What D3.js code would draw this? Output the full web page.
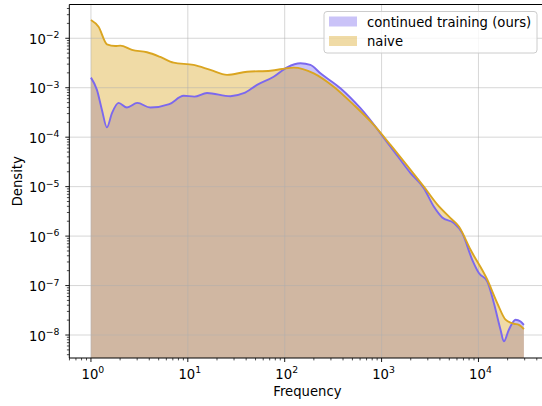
<!DOCTYPE html>
<html>
<head>
<meta charset="utf-8">
<script src="https://cdn.jsdelivr.net/npm/d3@7"></script>
<style>
  body { margin: 0; background: #fff; }
  svg { font-family: "DejaVu Sans", sans-serif; }
</style>
</head>
<body>
<svg width="542" height="406"></svg>
<script>
// values (frequency, density)
const freqOurs = [1, 1.153, 1.299, 1.463, 1.648, 1.928, 2.353, 3.01, 4.10, 6.44, 9.05, 11.67, 15.79,
  27.5, 37.7, 51.8, 76.9, 105.9, 145.3, 184.1, 233.7, 375.8, 605, 1236, 1990, 2730, 3459, 4226,
  5570, 6800, 8630, 10100, 12340, 14420, 16900, 18280, 20600, 24160, 27220, 29440]
const densOurs = [1.60e-3, 9.04e-4, 3.56e-4, 1.58e-4, 3.05e-4, 4.93e-4, 3.97e-4, 4.93e-4, 3.97e-4,
  4.65e-4, 6.89e-4, 6.61e-4, 7.85e-4, 6.74e-4, 7.74e-4, 1.14e-3, 1.67e-3, 2.59e-3, 3.13e-3,
  2.89e-3, 1.96e-3, 9.77e-4, 3.85e-4, 6.46e-5, 1.88e-5, 9.33e-6, 3.96e-6, 2.38e-6, 1.83e-6,
  1.15e-6, 3.32e-7, 1.79e-7, 1.21e-7, 4.43e-8, 1.28e-8, 7.43e-9, 1.28e-8, 2.04e-8, 1.88e-8, 1.61e-8]

const freqNaive = [1, 1.198, 1.463, 1.782, 2.008, 2.655, 3.79, 5.2, 7.13, 11.48, 17.07, 25.4, 40.9,
  71.2, 123.9, 199.5, 320.6, 516, 830, 1236, 1990, 2730, 3752, 5150, 6280, 8290, 12340, 15630,
  19050, 23220, 26130, 29440]
const densNaive = [2.34e-2, 1.71e-2, 7.57e-3, 6.98e-3, 7.09e-3, 5.81e-3, 5.21e-3, 4.19e-3, 3.21e-3,
  2.89e-3, 2.29e-3, 1.82e-3, 2.11e-3, 2.21e-3, 2.55e-3, 1.96e-3, 1.05e-3, 4.50e-4, 1.77e-4,
  6.98e-5, 2.18e-5, 1.00e-5, 4.38e-6, 2.31e-6, 1.56e-6, 5.28e-7, 1.31e-7, 4.43e-8, 2.04e-8,
  1.69e-8, 1.61e-8, 1.32e-8]

const seriesNames = ["continued training (ours)", "naive"]
const seriesColors = ["#7b68ee", "#daa520"]
const xTicks = [1, 10, 100, 1000, 10000]
const yTicks = [1e-8, 1e-7, 1e-6, 1e-5, 1e-4, 1e-3, 1e-2]

const svg = d3.select("svg")
const mLeft = 69.3, mTop = 4.5, mBottom = 358, mRight = 545.5
const fs = 13.2, fsSup = 9.3

const x = d3.scaleLog()
  .domain([Math.pow(10, -0.2234), Math.pow(10, 4.692)])
  .range([mLeft, mRight])
const y = d3.scaleLog()
  .domain([Math.pow(10, -8.465), Math.pow(10, -1.317)])
  .range([mBottom, mTop])

svg.append("clipPath").attr("id", "clip")
  .append("rect")
  .attr("x", mLeft).attr("y", mTop)
  .attr("width", mRight - mLeft).attr("height", mBottom - mTop)

const plot = svg.append("g").attr("clip-path", "url(#clip)")

const series = [
  { f: freqOurs, d: densOurs },
  { f: freqNaive, d: densNaive }
].map(s => s.f.map((f, j) => [f, s.d[j]]))

const area = d3.area()
  .x(p => x(p[0]))
  .y0(mBottom)
  .y1(p => y(p[1]))
  .curve(d3.curveMonotoneX)
const line = d3.line()
  .x(p => x(p[0]))
  .y(p => y(p[1]))
  .curve(d3.curveMonotoneX)

// fills first, lines on top
series.forEach((pts, i) => {
  plot.append("path")
    .attr("d", area(pts))
    .attr("fill", seriesColors[i])
    .attr("fill-opacity", 0.4)
})

// grid (major only)
const grid = svg.append("g")
grid.selectAll("line.gx")
  .data(xTicks)
  .enter()
  .append("line")
  .attr("x1", d => x(d)).attr("x2", d => x(d))
  .attr("y1", mTop).attr("y2", mBottom)
  .attr("stroke", "#b0b0b0").attr("stroke-opacity", 0.5).attr("stroke-width", 1)
grid.selectAll("line.gy")
  .data(yTicks)
  .enter()
  .append("line")
  .attr("x1", mLeft).attr("x2", mRight)
  .attr("y1", d => y(d)).attr("y2", d => y(d))
  .attr("stroke", "#b0b0b0").attr("stroke-opacity", 0.5).attr("stroke-width", 1)

const lines = svg.append("g").attr("clip-path", "url(#clip)")
series.forEach((pts, i) => {
  lines.append("path")
    .attr("d", line(pts))
    .attr("fill", "none")
    .attr("stroke", seriesColors[i])
    .attr("stroke-width", 1.9)
})

// minor ticks
const xMinor = []
for (let e = -1; e <= 4; e++) for (let k = 2; k <= 9; k++) {
  const v = k * Math.pow(10, e)
  if (v > x.domain()[0] && v < x.domain()[1]) xMinor.push(v)
}
const yMinor = []
for (let e = -9; e <= -2; e++) for (let k = 2; k <= 9; k++) {
  const v = k * Math.pow(10, e)
  if (v > y.domain()[0] && v < y.domain()[1]) yMinor.push(v)
}

const axes = svg.append("g").attr("stroke", "#000")
axes.selectAll("line.xm").data(xMinor).enter().append("line")
  .attr("x1", d => x(d)).attr("x2", d => x(d))
  .attr("y1", mBottom).attr("y2", mBottom + 2.4).attr("stroke-width", 0.7)
axes.selectAll("line.ym").data(yMinor).enter().append("line")
  .attr("y1", d => y(d)).attr("y2", d => y(d))
  .attr("x1", mLeft).attr("x2", mLeft - 2.4).attr("stroke-width", 0.7)
axes.selectAll("line.xM").data(xTicks).enter().append("line")
  .attr("x1", d => x(d)).attr("x2", d => x(d))
  .attr("y1", mBottom).attr("y2", mBottom + 4).attr("stroke-width", 0.9)
axes.selectAll("line.yM").data(yTicks).enter().append("line")
  .attr("y1", d => y(d)).attr("y2", d => y(d))
  .attr("x1", mLeft).attr("x2", mLeft - 4).attr("stroke-width", 0.9)

// spines
axes.append("line").attr("x1", mLeft).attr("x2", mLeft).attr("y1", mTop).attr("y2", mBottom).attr("stroke-width", 1)
axes.append("line").attr("x1", mLeft).attr("x2", mRight).attr("y1", mBottom).attr("y2", mBottom).attr("stroke-width", 1)
axes.append("line").attr("x1", mLeft).attr("x2", mRight).attr("y1", mTop).attr("y2", mTop).attr("stroke-width", 1)
axes.append("line").attr("x1", mRight).attr("x2", mRight).attr("y1", mTop).attr("y2", mBottom).attr("stroke-width", 1)

// tick labels
const expFmt = d => String(Math.round(Math.log10(d))).replace("-", "\u2212")
const xl = svg.selectAll("text.xl").data(xTicks).enter().append("text")
  .attr("x", d => x(d) + 2).attr("y", 378.5)
  .attr("text-anchor", "middle").attr("font-size", fs).attr("fill", "#000")
xl.append("tspan").text("10")
xl.append("tspan").attr("dy", -5.5).attr("font-size", fsSup).text(expFmt)

const yl = svg.selectAll("text.yl").data(yTicks).enter().append("text")
  .attr("x", 59.5).attr("y", d => y(d) + 5.5)
  .attr("text-anchor", "end").attr("font-size", fs).attr("fill", "#000")
yl.append("tspan").text("10")
yl.append("tspan").attr("dy", -5.5).attr("font-size", fsSup).text(expFmt)

// axis titles
svg.append("text")
  .attr("x", (mLeft + mRight) / 2).attr("y", 396)
  .attr("text-anchor", "middle").attr("font-size", fs)
  .text("Frequency")
svg.append("text")
  .attr("transform", "translate(21.5," + ((mTop + mBottom) / 2) + ") rotate(-90)")
  .attr("text-anchor", "middle").attr("font-size", fs)
  .text("Density")

// legend
const lg = svg.append("g").attr("transform", "translate(324,11.5)")
lg.append("rect")
  .attr("width", 213).attr("height", 41.5).attr("rx", 3)
  .attr("fill", "#fff").attr("fill-opacity", 0.8)
  .attr("stroke", "#cccccc").attr("stroke-width", 1)
seriesNames.forEach((name, i) => {
  lg.append("rect")
    .attr("x", 5).attr("y", 5 + i * 19.5)
    .attr("width", 28).attr("height", 10)
    .attr("fill", seriesColors[i]).attr("fill-opacity", 0.4)
  lg.append("text")
    .attr("x", 43).attr("y", 15 + i * 19.5)
    .attr("font-size", fs)
    .text(name)
})
</script>
</body>
</html>
